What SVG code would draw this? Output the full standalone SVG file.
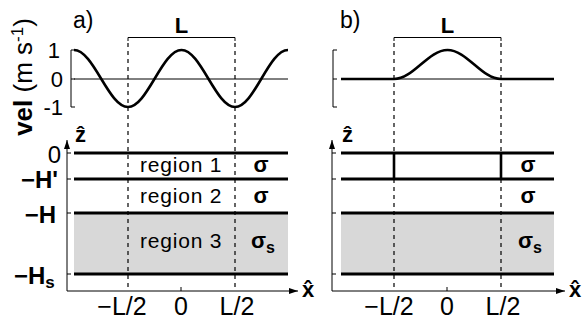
<svg xmlns="http://www.w3.org/2000/svg" width="583" height="324" viewBox="0 0 583 324">
<style>
text{font-family:"Liberation Sans","DejaVu Sans",sans-serif;fill:#000}
.t{font-size:22px}
.b{font-weight:bold}
.lbl{font-size:24px}
.tk{font-size:25px}
.reg{font-size:21px;letter-spacing:0.8px}
.thick{stroke:#000;stroke-width:3;fill:none}
.curve{stroke:#000;stroke-width:2.6;fill:none}
.thin{stroke:#000;stroke-width:1;fill:none}
.dash{stroke:#000;stroke-width:1.2;stroke-dasharray:4,4;fill:none}
.fill{fill:#d8d8d8}
</style>
<defs>
<marker id="ah" markerWidth="10" markerHeight="8" refX="9" refY="4" orient="auto" markerUnits="userSpaceOnUse">
<path d="M0,1 L9,4 L0,7 Z" fill="#000"/>
</marker>
</defs>
<g id="panel-a-labels">
<text x="73" y="28" style="font-size:23px">a)</text>
<text transform="translate(32,77) rotate(-90)" text-anchor="middle" style="font-size:26px"><tspan class="b">vel</tspan> (m s<tspan dy="-9" style="font-size:17px">-1</tspan><tspan dy="9">)</tspan></text>
<text x="60" y="58" class="t" text-anchor="end">1</text>
<text x="63" y="87" class="t" text-anchor="end">0</text>
<text x="63" y="115" class="t" text-anchor="end">-1</text>
</g>
<g id="panel-a-top">
<path class="thin" d="M75,50 H71 V107 H75 M71,79 H75"/>
<line class="thin" x1="74" y1="79" x2="288" y2="79"/>
<path class="curve" d="M74,50 C93.6,50 108.4,107 128,107 C147.4,107 162.1,50 181.5,50 C200.9,50 215.6,107 235,107 C254.3,107 268.7,50 288,50"/>
<path class="thin" d="M128,41 V37.5 H235 V41"/>
<text x="181.5" y="33" class="t b" text-anchor="middle">L</text>
</g>
<g id="panel-a-layers">
<rect class="fill" x="74" y="213" width="214" height="61"/>
<line class="thick" x1="74" y1="153" x2="288" y2="153"/>
<line class="thick" x1="74" y1="179" x2="288" y2="179"/>
<line class="thick" x1="74" y1="213" x2="288" y2="213"/>
<line class="thick" x1="74" y1="274" x2="288" y2="274"/>
<text x="140" y="172" class="reg">region 1</text>
<text x="140" y="203" class="reg">region 2</text>
<text x="140" y="248" class="reg">region 3</text>
<text x="261" y="172" class="t b" text-anchor="middle">σ</text>
<text x="261" y="203" class="t b" text-anchor="middle">σ</text>
<text x="251" y="248" class="t b">σ<tspan dy="5" style="font-size:16px">s</tspan></text>
</g>
<g id="panel-a-axes">
<line class="thin" x1="67" y1="291" x2="67" y2="140" marker-end="url(#ah)"/>
<line class="thin" x1="67" y1="291" x2="298" y2="291" marker-end="url(#ah)"/>
<path class="thin" d="M67,153 H71 M67,179 H71 M67,213 H71 M67,274 H71 M181,291 V287"/>
<text x="75" y="142" class="t b">ẑ</text>
<text x="302" y="297" class="t b">x̂</text>
<text x="61" y="163" class="lbl" text-anchor="end">0</text>
<text x="58" y="188" class="lbl b" text-anchor="end">−H'</text>
<text x="56" y="223" class="lbl b" text-anchor="end">−H</text>
<text x="14" y="284" class="lbl b">−H<tspan dy="4" style="font-size:17px">s</tspan></text>
<text x="122" y="315" class="tk" text-anchor="middle">−L/2</text>
<text x="181" y="315" class="tk" text-anchor="middle">0</text>
<text x="237" y="315" class="tk" text-anchor="middle">L/2</text>
</g>
<g id="panel-b-labels">
<text x="340" y="28" style="font-size:23px">b)</text>
</g>
<g id="panel-b-top">
<path class="thin" d="M337,50 H333 V107 H337 M333,79 H337"/>
<line class="thin" x1="341" y1="79" x2="554" y2="79"/>
<path class="curve" d="M341,79 H394 C413.4,79 428.1,50 447.5,50 C466.9,50 481.6,79 501,79 H554"/>
<path class="thin" d="M394,41 V37.5 H501 V41"/>
<text x="447.5" y="33" class="t b" text-anchor="middle">L</text>
</g>
<g id="panel-b-layers">
<rect class="fill" x="341" y="213" width="213" height="61"/>
<line class="thick" x1="341" y1="153" x2="554" y2="153"/>
<line class="thick" x1="341" y1="179" x2="554" y2="179"/>
<line class="thick" x1="341" y1="213" x2="554" y2="213"/>
<line class="thick" x1="341" y1="274" x2="554" y2="274"/>
<line class="curve" x1="394" y1="153" x2="394" y2="179"/>
<line class="curve" x1="501" y1="153" x2="501" y2="179"/>
<text x="528" y="172" class="t b" text-anchor="middle">σ</text>
<text x="528" y="203" class="t b" text-anchor="middle">σ</text>
<text x="518" y="248" class="t b">σ<tspan dy="5" style="font-size:16px">s</tspan></text>
</g>
<g id="panel-b-axes">
<line class="thin" x1="332" y1="291" x2="332" y2="140" marker-end="url(#ah)"/>
<line class="thin" x1="332" y1="291" x2="565" y2="291" marker-end="url(#ah)"/>
<path class="thin" d="M332,153 H336 M332,179 H336 M332,213 H336 M332,274 H336 M447,291 V287"/>
<text x="342" y="142" class="t b">ẑ</text>
<text x="569" y="297" class="t b">x̂</text>
<text x="389" y="315" class="tk" text-anchor="middle">−L/2</text>
<text x="447" y="315" class="tk" text-anchor="middle">0</text>
<text x="503" y="315" class="tk" text-anchor="middle">L/2</text>
</g>
<g id="connectors">
<line class="dash" x1="128" y1="43" x2="128" y2="291"/>
<line class="dash" x1="235" y1="43" x2="235" y2="291"/>
<line class="dash" x1="394" y1="43" x2="394" y2="291"/>
<line class="dash" x1="501" y1="43" x2="501" y2="291"/>
</g>
</svg>
